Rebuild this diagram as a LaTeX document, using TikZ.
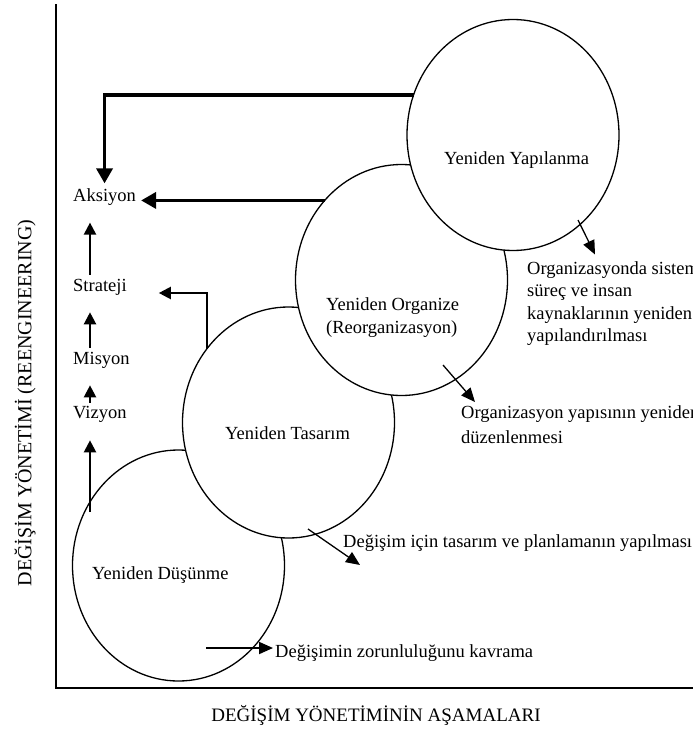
\documentclass[tikz,border=0pt]{standalone}
\usepackage{fontspec}
\setmainfont{Liberation Serif}
\usetikzlibrary{shapes.geometric,calc,arrows.meta}

\begin{document}
\begin{tikzpicture}[x=1pt,y=-1pt,
  stage/.style={ellipse,draw,line width=1.3pt,fill=white,
    minimum width=212pt,minimum height=231pt,inner sep=0pt,outer sep=0pt},
  lbl/.style={font=\fontsize{18.5}{23}\selectfont,inner sep=0pt,anchor=west,align=left},
  axis/.style={line width=2.6pt,line join=miter},
  bold/.style={line width=3.6pt,-{Triangle[length=15pt,width=16pt]}},
  thin/.style={line width=2.2pt,-{Triangle[length=12pt,width=12pt]}},
  note/.style={line width=1.3pt,-{Triangle[length=14pt,width=12pt]}},
]
\useasboundingbox (0,0) rectangle (693,736);
\clip (0,0) rectangle (693,736);

% axes
\coordinate (otop) at (56,4);
\coordinate (origin) at (56,688);
\coordinate (xend) at (700,688);
\draw[axis] (otop) -- (origin) -- (xend);

% the four stages, later ones lying over earlier ones
\node[stage] (dus) at (178.5,565.5) {};
\node[stage] (tas) at (288.5,422.5) {};
\node[stage] (org) at (401.5,280) {};
\node[stage] (yap) at (513,135) {};

\node[lbl] (tdus) at (92,575) {Yeniden Düşünme};
\node[lbl] (ttas) at (225,433) {Yeniden Tasarım};
\node[lbl] (torg) at (326,317.5) {Yeniden Organize\\(Reorganizasyon)};
\node[lbl] (tyap) at (444,160) {Yeniden Yapılanma};

% left column
\node[lbl] (aks) at (73,197) {Aksiyon};
\node[lbl] (stra) at (73,287) {Strateji};
\node[lbl] (mis) at (73,360) {Misyon};
\node[lbl] (viz) at (73,414) {Vizyon};
\coordinate (colx) at (90,0);

% notes
\node[lbl] (n1) at (275,653) {Değişimin zorunluluğunu kavrama};
\node[lbl] (n2) at (343,543) {Değişim için tasarım ve planlamanın yapılması};
\node[lbl,font=\fontsize{18.5}{25}\selectfont] (n3) at (461,424.5) {Organizasyon yapısının yeniden\\düzenlenmesi};
\node[lbl,font=\fontsize{18.5}{22.3}\selectfont] (n4) at (527,303.5) {Organizasyonda sistem\\süreç ve insan\\kaynaklarının yeniden\\yapılandırılması};

% axis titles
\node[font=\fontsize{20}{24}\selectfont,rotate=90,inner sep=0pt] (ylab) at (25,403) {DEĞİŞİM YÖNETİMİ (REENGINEERING)};
\node[font=\fontsize{19}{23}\selectfont,inner sep=0pt] (xlab) at (376,715) {DEĞİŞİM YÖNETİMİNİN AŞAMALARI};

% feedback to Aksiyon
\draw[bold,shorten >=5pt] (yap.158) -| (aks.north);
\draw[bold,shorten >=5pt] (org.134) -- (org.134 -| aks.east);
\draw[thin,shorten >=32pt] (tas.138) |- ([yshift=-6pt]stra.east);

% upward chain
\coordinate (d0) at ($(dus)+(-88.5,-53.5)$);
\draw[thin,shorten >=18pt] (d0) -- (viz.south -| colx);
\draw[thin,shorten <=3pt,shorten >=17pt] (viz.north -| colx) -- (mis.south -| colx);
\draw[thin,shorten <=4pt,shorten >=17pt] (mis.north -| colx) -- (stra.south -| colx);
\draw[thin,shorten <=4pt,shorten >=17pt] (stra.north -| colx) -- (aks.south -| colx);

% pointers to the notes
\coordinate (d1) at ($(dus)+(27.5,82.5)$);
\draw[note,line width=1.8pt,shorten >=2pt] (d1) -- (d1 -| n1.west);
\draw[note] ($(tas)+(19.5,106.5)$) -- ($(n2.west)+(17,22)$);
\draw[note] ($(org)+(41.5,85)$) -- ($(n3.west)+(14,-22.5)$);
\draw[note] ($(yap)+(65,85)$) -- ($(n4.west)+(68,-49)$);
\end{tikzpicture}
\end{document}
